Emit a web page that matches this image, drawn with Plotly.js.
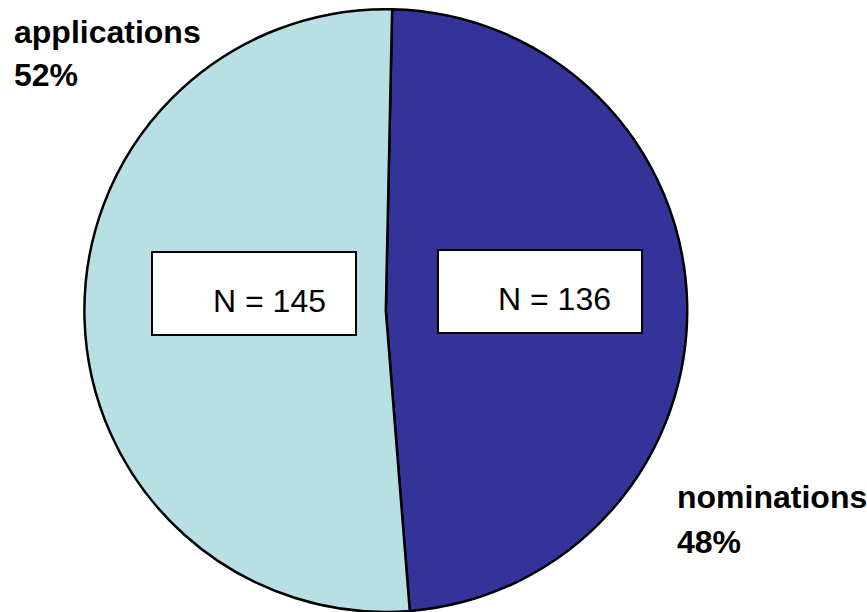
<!DOCTYPE html>
<html>
<head>
<meta charset="utf-8">
<script src="https://cdn.plot.ly/plotly-3.0.1.min.js"></script>
<style>html,body{margin:0;padding:0;background:#fff;}#chart{width:867px;height:612px;}</style>
</head>
<body>
<div id="chart"></div>
<script>
const categories = ['nominations', 'applications'];
const counts = [136, 145];
const percentLabels = ['48%', '52%'];
const countLabels = ['N = 136', 'N = 145'];
const sliceColors = ['#333399', '#B8E0E4'];

const W = 867, H = 612;
const px = x => x / W;
const py = y => 1 - y / H;
const FONT = 'Arial, "Liberation Sans", sans-serif';

const trace = {
  type: 'pie',
  labels: categories,
  values: counts,
  sort: false,
  direction: 'clockwise',
  rotation: 1.2,
  marker: {colors: sliceColors, line: {color: '#000000', width: 2.5}},
  textinfo: 'none',
  hoverinfo: 'none',
  showlegend: false,
  domain: {x: [0.05, 0.84], y: [0, 0.985]}
};

const shapes = [
  {type: 'rect', xref: 'paper', yref: 'paper', x0: px(152), x1: px(356), y0: py(252), y1: py(335),
   fillcolor: '#ffffff', line: {color: '#000000', width: 2}},
  {type: 'rect', xref: 'paper', yref: 'paper', x0: px(438), x1: px(642), y0: py(250), y1: py(333),
   fillcolor: '#ffffff', line: {color: '#000000', width: 2}}
];

const annotations = [
  {text: countLabels[1], x: px(269), y: py(301), xref: 'paper', yref: 'paper', xanchor: 'center', yanchor: 'middle',
   showarrow: false, font: {family: FONT, size: 32, color: '#000'}},
  {text: countLabels[0], x: px(554), y: py(299), xref: 'paper', yref: 'paper', xanchor: 'center', yanchor: 'middle',
   showarrow: false, font: {family: FONT, size: 32, color: '#000'}},
  {text: '<b>' + categories[1] + '</b>', x: px(12), y: py(32), xref: 'paper', yref: 'paper', xanchor: 'left', yanchor: 'middle',
   showarrow: false, font: {family: FONT, size: 32, color: '#000'}},
  {text: '<b>' + percentLabels[1] + '</b>', x: px(12), y: py(75), xref: 'paper', yref: 'paper', xanchor: 'left', yanchor: 'middle',
   showarrow: false, font: {family: FONT, size: 32, color: '#000'}},
  {text: '<b>' + categories[0] + '</b>', x: px(675), y: py(497), xref: 'paper', yref: 'paper', xanchor: 'left', yanchor: 'middle',
   showarrow: false, font: {family: FONT, size: 32, color: '#000'}},
  {text: '<b>' + percentLabels[0] + '</b>', x: px(675), y: py(542), xref: 'paper', yref: 'paper', xanchor: 'left', yanchor: 'middle',
   showarrow: false, font: {family: FONT, size: 32, color: '#000'}}
];

const layout = {
  width: W, height: H,
  margin: {l: 0, r: 0, t: 0, b: 0},
  paper_bgcolor: '#ffffff',
  plot_bgcolor: '#ffffff',
  shapes: shapes,
  annotations: annotations,
  font: {family: FONT}
};

Plotly.newPlot('chart', [trace], layout, {displayModeBar: false, staticPlot: true});
</script>
</body>
</html>
